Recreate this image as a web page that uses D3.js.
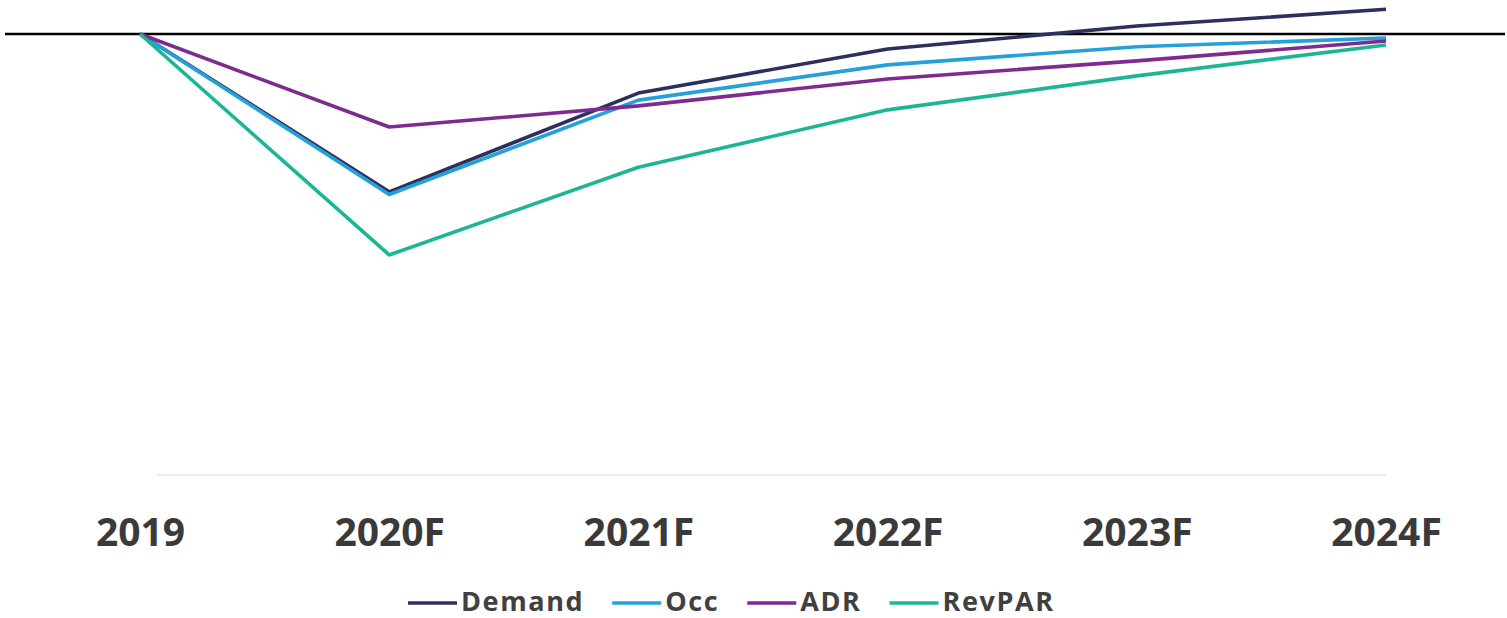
<!DOCTYPE html>
<html>
<head>
<meta charset="utf-8">
<script src="https://cdn.jsdelivr.net/npm/d3@7"></script>
<style>
  html, body { margin: 0; padding: 0; background: #ffffff; }
  svg { display: block; }
</style>
</head>
<body>
<svg id="chart" width="1507" height="618"></svg>
<script>
// ---- Data (percent change vs 2019) ----
const categories = ["2019", "2020F", "2021F", "2022F", "2023F", "2024F"];
const demand = [0, -35.8, -13.4, -3.4, 1.8, 5.6];
const occ    = [0, -36.4, -15.0, -7.0, -2.9, -0.9];
const adr    = [0, -21.1, -16.3, -10.2, -6.1, -1.6];
const revpar = [0, -50.1, -30.2, -17.2, -9.5, -2.5];
const seriesNames = ["Demand", "Occ", "ADR", "RevPAR"];
const seriesColors = ["#2d2f5e", "#25a1da", "#7e2b90", "#1cb596"];
const seriesValues = [demand, occ, adr, revpar];

const svg = d3.select("#chart");

const x = d3.scalePoint().domain(categories).range([140, 1386]);
const y = d3.scaleLinear().domain([-100, 0]).range([475, 34]);

// faint bottom gridline
svg.append("line")
  .attr("x1", 157).attr("x2", x(categories[categories.length - 1]))
  .attr("y1", y(-100)).attr("y2", y(-100))
  .attr("stroke", "#e6e6e6").attr("stroke-width", 1.5);

// zero line
svg.append("line")
  .attr("x1", 5).attr("x2", 1505)
  .attr("y1", y(0)).attr("y2", y(0))
  .attr("stroke", "#000000").attr("stroke-width", 2.6);

// series lines
const line = d3.line().x((d, i) => x(categories[i])).y(d => y(d));
seriesValues.forEach((vals, k) => {
  svg.append("path")
    .datum(vals)
    .attr("d", line)
    .attr("fill", "none")
    .attr("stroke", seriesColors[k])
    .attr("stroke-width", 3.6)
    .attr("stroke-linejoin", "round");
});

// x axis labels
const xAxis = d3.axisBottom(x).tickSize(0).tickPadding(0);
const gx = svg.append("g").attr("transform", "translate(0,505)").call(xAxis);
gx.select(".domain").remove();
gx.selectAll("text")
  .attr("dy", "1.05em")
  .attr("font-family", "'Open Sans', sans-serif")
  .attr("font-weight", "700")
  .attr("font-size", 39)
  .attr("fill", "#3a3a3a");

// legend
const legend = svg.append("g");
let cx = 408;
seriesNames.forEach((name, k) => {
  const g = legend.append("g");
  g.append("line")
    .attr("x1", cx).attr("x2", cx + 49)
    .attr("y1", 603).attr("y2", 603)
    .attr("stroke", seriesColors[k]).attr("stroke-width", 3.6);
  const t = g.append("text")
    .attr("x", cx + 53).attr("y", 611)
    .attr("font-family", "'Open Sans', sans-serif")
    .attr("font-weight", "700")
    .attr("font-size", 27)
    .attr("letter-spacing", "1.6px")
    .attr("fill", "#404040")
    .text(name);
  cx = cx + 53 + t.node().getComputedTextLength() + 28;
});
</script>
</body>
</html>
